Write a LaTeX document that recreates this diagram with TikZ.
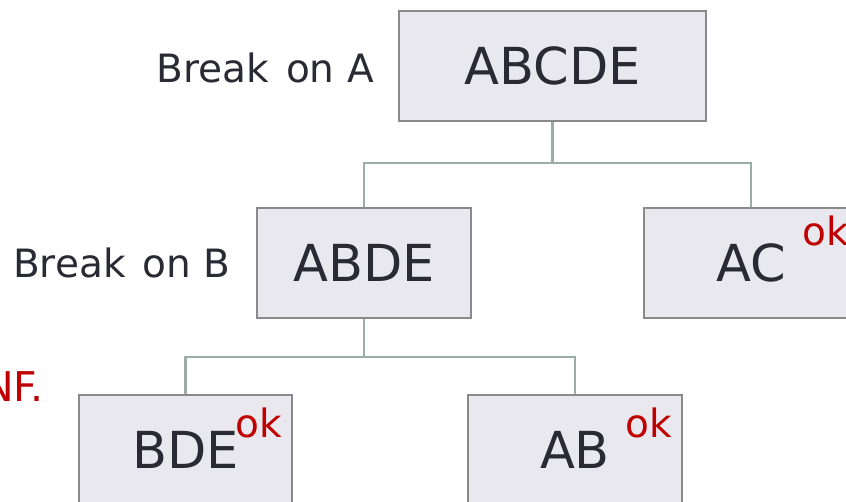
\documentclass[tikz,border=0pt]{standalone}
\usepackage{fontspec}
\setmainfont{DejaVu Sans}
\definecolor{boxfill}{HTML}{E8E8EE}
\definecolor{boxline}{HTML}{8A8A8A}
\definecolor{conn}{HTML}{9AADA6}
\definecolor{txt}{HTML}{2A2A35}
\definecolor{okred}{HTML}{C00000}
\begin{document}
\begin{tikzpicture}[x=1pt,y=-1pt,
  relbox/.style={draw=boxline,line width=2.6pt,fill=boxfill,text=txt,
    minimum height=110pt,inner sep=0pt,font=\fontsize{51}{51}\selectfont},
  oklabel/.style={text=okred,inner sep=0pt,font=\fontsize{39}{39}\selectfont},
  brklabel/.style={text=txt,inner sep=0pt,font=\fontsize{39}{39}\selectfont},
  link/.style={draw=conn,line width=2.8pt}]
\useasboundingbox (0,0) rectangle (846,501);
\coordinate (j1) at (552.5,163);
\coordinate (j2) at (364,357);
\draw[link] (552.5,66) -- (j1);
\node[relbox,minimum width=307pt] (abcde) at (552.5,66) {ABCDE};
\node[relbox,minimum width=214pt] (abde) at (364,263) {ABDE};
\node[relbox,minimum width=214pt] (ac) at (751,263) {AC};
\node[relbox,minimum width=213pt] (bde) at (185.5,450) {BDE};
\node[relbox,minimum width=214pt] (ab) at (575,450) {AB};
\draw[link] (abcde.south) -- (j1) -| (abde.north);
\draw[link] (j1) -| (ac.north);
\draw[link] (abde.south) -- (j2) -| (bde.north);
\draw[link] (j2) -| (ab.north);
\node[oklabel,anchor=base west] (okac) at (802,245) {ok};
\node[oklabel,anchor=base west] (okbde) at (235,437) {ok};
\node[oklabel,anchor=base west] (okab) at (625,437) {ok};
\node[brklabel,anchor=base east] (brka) at (374,82) {Break\hspace{0.12em} on A};
\node[brklabel,anchor=base west] (brkb) at (13,277) {Break\hspace{0.12em} on B};
\node[oklabel,font=\fontsize{41}{41}\selectfont,anchor=base east] (nf) at (44,401) {NF.};
\end{tikzpicture}
\end{document}
